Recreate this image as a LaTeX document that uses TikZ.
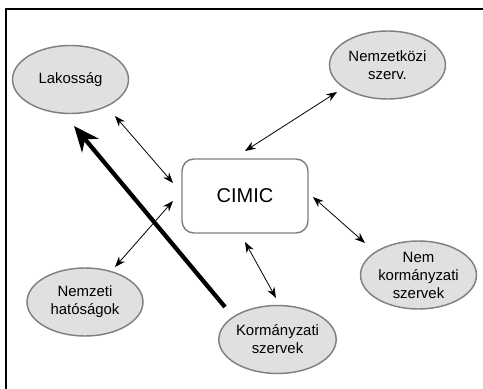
\documentclass[tikz,border=0pt]{standalone}
\usepackage{fontspec}
\setmainfont{Liberation Sans}
\usetikzlibrary{shapes.geometric,arrows.meta}
\begin{document}
\begin{tikzpicture}[x=0.75pt,y=-0.75pt,
  oval/.style={ellipse,draw=black!50,line width=1.1pt,fill=black!12,
    minimum width=87pt,minimum height=51pt,inner sep=0pt,align=center,
    font=\fontsize{11.2pt}{13.5pt}\selectfont},
  hub/.style={rectangle,rounded corners=9pt,draw=black!50,line width=1.1pt,fill=white,
    minimum width=94.5pt,minimum height=55.5pt,font=\fontsize{15pt}{18pt}\selectfont},
  link/.style={{Stealth[length=8pt,width=6pt]}-{Stealth[length=8pt,width=6pt]},line width=0.6pt},
  bold/.style={-{Stealth[length=19pt,width=16pt,inset=6pt]},line width=3.2pt}]
\useasboundingbox (0,0) rectangle (483,389);
\draw[line width=1.2pt] (6,400) -- (6,9) -- (495,9);
\node[oval] (lak) at (70.5,79.5) {Lakosság};
\node[oval] (nemz) at (387.5,65) {Nemzetközi\\szerv.};
\node[hub] (cimic) at (245,196) {CIMIC};
\node[oval] (ngo) at (418.5,275) {Nem\\kormányzati\\szervek};
\node[oval] (hat) at (85,302) {Nemzeti\\hatóságok};
\node[oval] (korm) at (277.5,339.5) {Kormányzati\\szervek};
\coordinate (a1) at (115,116); \coordinate (b1) at (173,183);
\coordinate (a2) at (337,92);  \coordinate (b2) at (245,151);
\coordinate (a3) at (115,267); \coordinate (b3) at (173,201);
\coordinate (a4) at (276,298); \coordinate (b4) at (245,242);
\coordinate (a5) at (365,243); \coordinate (b5) at (313,197);
\coordinate (t1) at (225,307); \coordinate (t2) at (74,126);
\draw[link] (a1) -- (b1);
\draw[link] (a2) -- (b2);
\draw[link] (a3) -- (b3);
\draw[link] (a4) -- (b4);
\draw[link] (a5) -- (b5);
\draw[bold] (t1) -- (t2);
\end{tikzpicture}
\end{document}
